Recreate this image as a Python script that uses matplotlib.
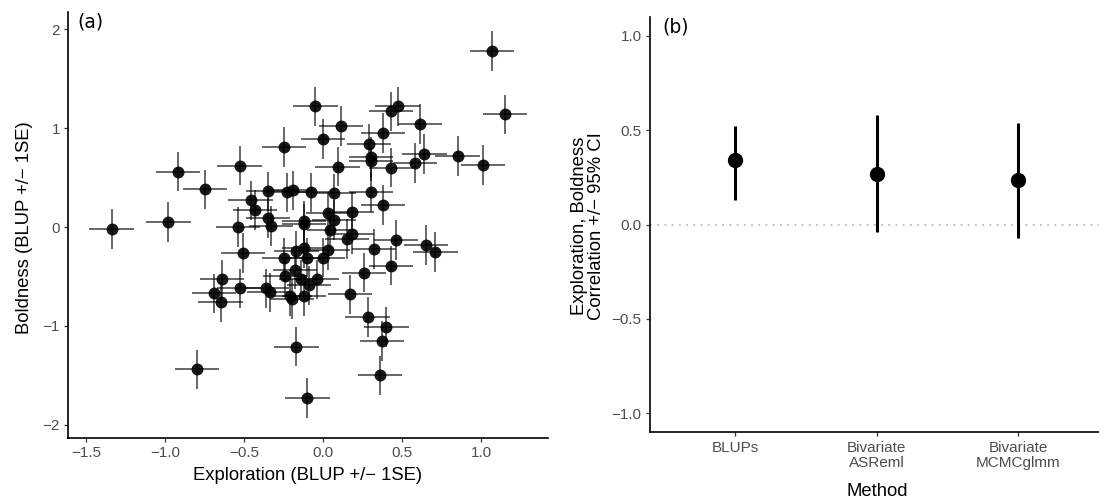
import matplotlib
matplotlib.use('Agg')
import matplotlib.pyplot as plt
import numpy as np

# valores (BLUPs de exploracao e ousadia)
explor = [1.07, 1.15, -0.05, 0.47, 0.43, 0.11, 0.61, 0.00, 0.38, 0.29,
          -0.25, 0.30, 0.30, 0.64, 0.85, 0.58, 1.01, 0.09, 0.43, -0.53,
          -0.92, -0.75, -0.35, -0.23, -0.19, -0.08, 0.07, 0.30, -0.46, -0.43,
          0.38, 0.03, 0.18, -0.35, -0.33, -0.12, -0.12, 0.07, 0.04, 0.15,
          0.18, 0.46, 0.65, 0.71, -1.34, -0.98, -0.54, -0.51, 0.32, 0.43,
          0.26, 0.17, 0.28, 0.40, 0.37, 0.36, -0.17, -0.80, -0.10, -0.64,
          -0.53, -0.69, -0.65, -0.36, -0.34, -0.25, -0.17, -0.12, -0.10, 0.00,
          0.03, -0.18, -0.24, -0.14, -0.04, -0.09, -0.21, -0.20, -0.12]
bold = [1.78, 1.14, 1.22, 1.22, 1.17, 1.02, 1.04, 0.89, 0.95, 0.84,
        0.81, 0.71, 0.67, 0.74, 0.72, 0.65, 0.63, 0.61, 0.60, 0.62,
        0.56, 0.38, 0.36, 0.35, 0.37, 0.35, 0.34, 0.35, 0.27, 0.17,
        0.22, 0.14, 0.15, 0.09, 0.01, 0.06, 0.03, 0.07, -0.03, -0.12,
        -0.07, -0.13, -0.18, -0.25, -0.02, 0.05, 0.00, -0.26, -0.22, -0.39,
        -0.46, -0.68, -0.91, -1.01, -1.15, -1.50, -1.21, -1.44, -1.73, -0.53,
        -0.62, -0.67, -0.76, -0.62, -0.66, -0.31, -0.24, -0.21, -0.31, -0.31,
        -0.23, -0.43, -0.50, -0.53, -0.53, -0.59, -0.70, -0.73, -0.70]
explor_se = 0.14
bold_se = 0.20

# correlacoes por metodo
metodos = ['BLUPs', 'Bivariate\nASReml', 'Bivariate\nMCMCglmm']
corr = [0.34, 0.27, 0.238]
ci_lo = [0.132, -0.042, -0.074]
ci_hi = [0.521, 0.579, 0.535]

plt.rcParams['font.family'] = ['Liberation Sans', 'DejaVu Sans']
cinza = '#4D4D4D'

fig = plt.figure(figsize=(10.99, 5.03), dpi=100)
ax1 = fig.add_axes([0.0621, 0.1298, 0.4368, 0.8469])
ax2 = fig.add_axes([0.5914, 0.1405, 0.4086, 0.8263])

def estilo(ax):
    for s in ['top', 'right']:
        ax.spines[s].set_visible(False)
    for s in ['left', 'bottom']:
        ax.spines[s].set_linewidth(1.2)
        ax.spines[s].set_color('black')
    ax.tick_params(direction='out', length=3, width=0.9, color='#333333',
                   labelsize=11, labelcolor=cinza, pad=3)

# painel (a)
ax1.errorbar(explor, bold, xerr=explor_se, yerr=bold_se, fmt='none',
             ecolor=(0, 0, 0, 0.6), elinewidth=1.4, capsize=0, zorder=2)
ax1.plot(explor, bold, 'o', color='black', markersize=8.6, alpha=0.9,
         markeredgewidth=0, zorder=3)
ax1.set_xlim(-1.614, 1.424)
ax1.set_ylim(-2.13, 2.177)
ax1.set_xticks([-1.5, -1.0, -0.5, 0.0, 0.5, 1.0])
ax1.set_xticklabels(['\u22121.5', '\u22121.0', '\u22120.5', '0.0', '0.5', '1.0'])
ax1.set_yticks([-2, -1, 0, 1, 2])
ax1.set_yticklabels(['\u22122', '\u22121', '0', '1', '2'])
estilo(ax1)
ax1.text(0.02, 0.998, '(a)', transform=ax1.transAxes, ha='left', va='top',
         fontsize=13.5, family='DejaVu Sans')

# painel (b)
pos = np.arange(1, len(metodos) + 1)
ax2.axhline(0, color='#BBBBBB', linestyle=(0, (1, 3)), linewidth=1.3, zorder=1)
ax2.vlines(pos, ci_lo, ci_hi, color='black', linewidth=2.2, zorder=2)
ax2.plot(pos, corr, 'o', color='black', markersize=10, zorder=3)
ax2.set_xlim(0.4, 3.571)
ax2.set_ylim(-1.1, 1.1)
ax2.set_xticks(pos)
ax2.set_xticklabels(metodos, linespacing=1.1)
ax2.set_yticks([-1.0, -0.5, 0.0, 0.5, 1.0])
ax2.set_yticklabels(['\u22121.0', '\u22120.5', '0.0', '0.5', '1.0'])
estilo(ax2)
ax2.text(0.027, 0.998, '(b)', transform=ax2.transAxes, ha='left', va='top',
         fontsize=13.5, family='DejaVu Sans')

# titulos dos eixos
fig.text(308 / 1099, 1 - 475 / 503, 'Exploration (BLUP +/\u2212 1SE)',
         ha='center', va='center', fontsize=13.3)
fig.text(25 / 1099, 1 - 228 / 503, 'Boldness (BLUP +/\u2212 1SE)',
         ha='center', va='center', rotation=90, fontsize=13.3)
fig.text(877 / 1099, 1 - 491 / 503, 'Method',
         ha='center', va='center', fontsize=13.3)
fig.text(588 / 1099, 1 - 226 / 503,
         'Exploration, Boldness\nCorrelation +/\u2212 95% CI',
         ha='center', va='center', rotation=90, fontsize=13.3, linespacing=1.0)

fig.savefig('out.png', dpi=100)
